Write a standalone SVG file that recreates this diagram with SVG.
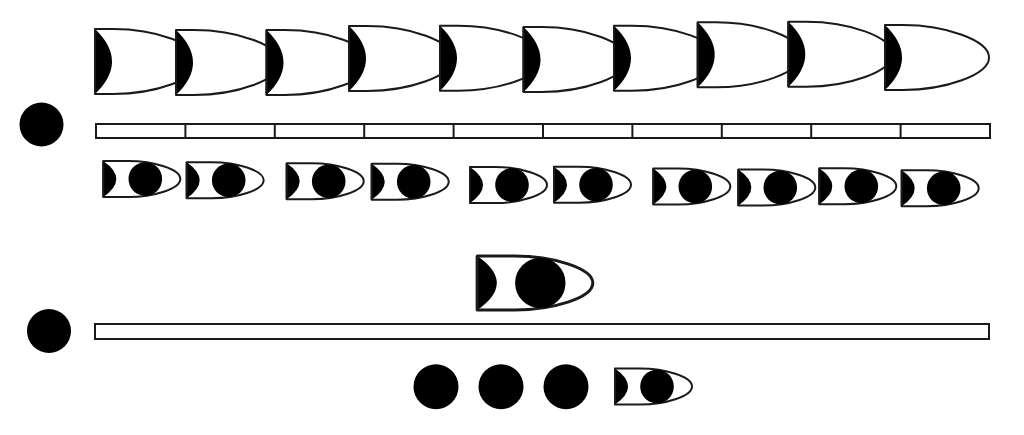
<svg xmlns="http://www.w3.org/2000/svg" xmlns:xlink="http://www.w3.org/1999/xlink" width="1024" height="435" viewBox="0 0 1024 435">
<style>
.ol{fill:#fff;stroke:#1a1a1a;stroke-width:2;stroke-linejoin:round}
.blk{fill:#000}
.bar{fill:#fff;stroke:#1a1a1a;stroke-width:2}
</style>
<defs>
<g id="big">
<path class="ol" d="M0,0 L18,0 C60,0 104,15 104,32.5 C104,50 60,65 18,65 L0,65 Z"/>
<path class="blk" d="M0,0 Q34,32.5 0,65 Z"/>
<path d="M0,0 L0,65" stroke="#1a1a1a" stroke-width="2"/>
</g>
<g id="small">
<path class="ol" d="M0,0 L25,0 C50,0 77,8 77,18 C77,28 50,36 25,36 L0,36 Z"/>
<path class="blk" d="M0,0 Q26,18 0,36 Z"/>
<path d="M0,0 L0,36" stroke="#1a1a1a" stroke-width="2"/>
<circle class="blk" cx="42" cy="18" r="16.8"/>
</g>
</defs>
<rect width="1024" height="435" fill="#fff"/>
<g id="connectors"></g>
<g id="top-row">
<use id="t1" xlink:href="#big" x="95" y="29"/>
<use id="t2" xlink:href="#big" x="176" y="30"/>
<use id="t3" xlink:href="#big" x="266.5" y="30"/>
<use id="t4" xlink:href="#big" x="349" y="26"/>
<use id="t5" xlink:href="#big" x="440" y="25.7"/>
<use id="t6" xlink:href="#big" x="523.5" y="27"/>
<use id="t7" xlink:href="#big" x="614" y="25.7"/>
<use id="t8" xlink:href="#big" x="697.7" y="22.3"/>
<use id="t9" xlink:href="#big" x="788.3" y="21.7"/>
<use id="t10" xlink:href="#big" x="885" y="25"/>
</g>
<g id="circle1"><circle class="blk" cx="41.5" cy="124.5" r="22"/></g>
<g id="bar1">
<rect class="bar" x="96" y="124" width="894" height="14"/>
<path d="M185.4,124V138M274.8,124V138M364.2,124V138M453.6,124V138M543,124V138M632.4,124V138M721.8,124V138M811.2,124V138M900.6,124V138" stroke="#1a1a1a" stroke-width="2"/>
</g>
<g id="small-row">
<use id="s1" xlink:href="#small" x="103.3" y="161"/>
<use id="s2" xlink:href="#small" x="186.7" y="162.3"/>
<use id="s3" xlink:href="#small" x="286.7" y="163.3"/>
<use id="s4" xlink:href="#small" x="371.7" y="163.8"/>
<use id="s5" xlink:href="#small" x="470" y="167"/>
<use id="s6" xlink:href="#small" x="554" y="166.7"/>
<use id="s7" xlink:href="#small" x="653.3" y="168.5"/>
<use id="s8" xlink:href="#small" x="738.3" y="169.5"/>
<use id="s9" xlink:href="#small" x="819.3" y="168.3"/>
<use id="s10" xlink:href="#small" x="901.7" y="170.3"/>
</g>
<g id="big-small" transform="translate(477.3,256) scale(1.5)"><use xlink:href="#small"/></g>
<g id="circle2"><circle class="blk" cx="49" cy="331" r="22"/></g>
<g id="bar2"><rect class="bar" x="95" y="324" width="894" height="15"/></g>
<g id="bottom-row">
<circle id="b1" class="blk" cx="436" cy="386.7" r="22.5"/>
<circle id="b2" class="blk" cx="501" cy="386.7" r="22.5"/>
<circle id="b3" class="blk" cx="566" cy="386.7" r="22.5"/>
<use id="b4" xlink:href="#small" x="615" y="368.5"/>
</g>
</svg>
